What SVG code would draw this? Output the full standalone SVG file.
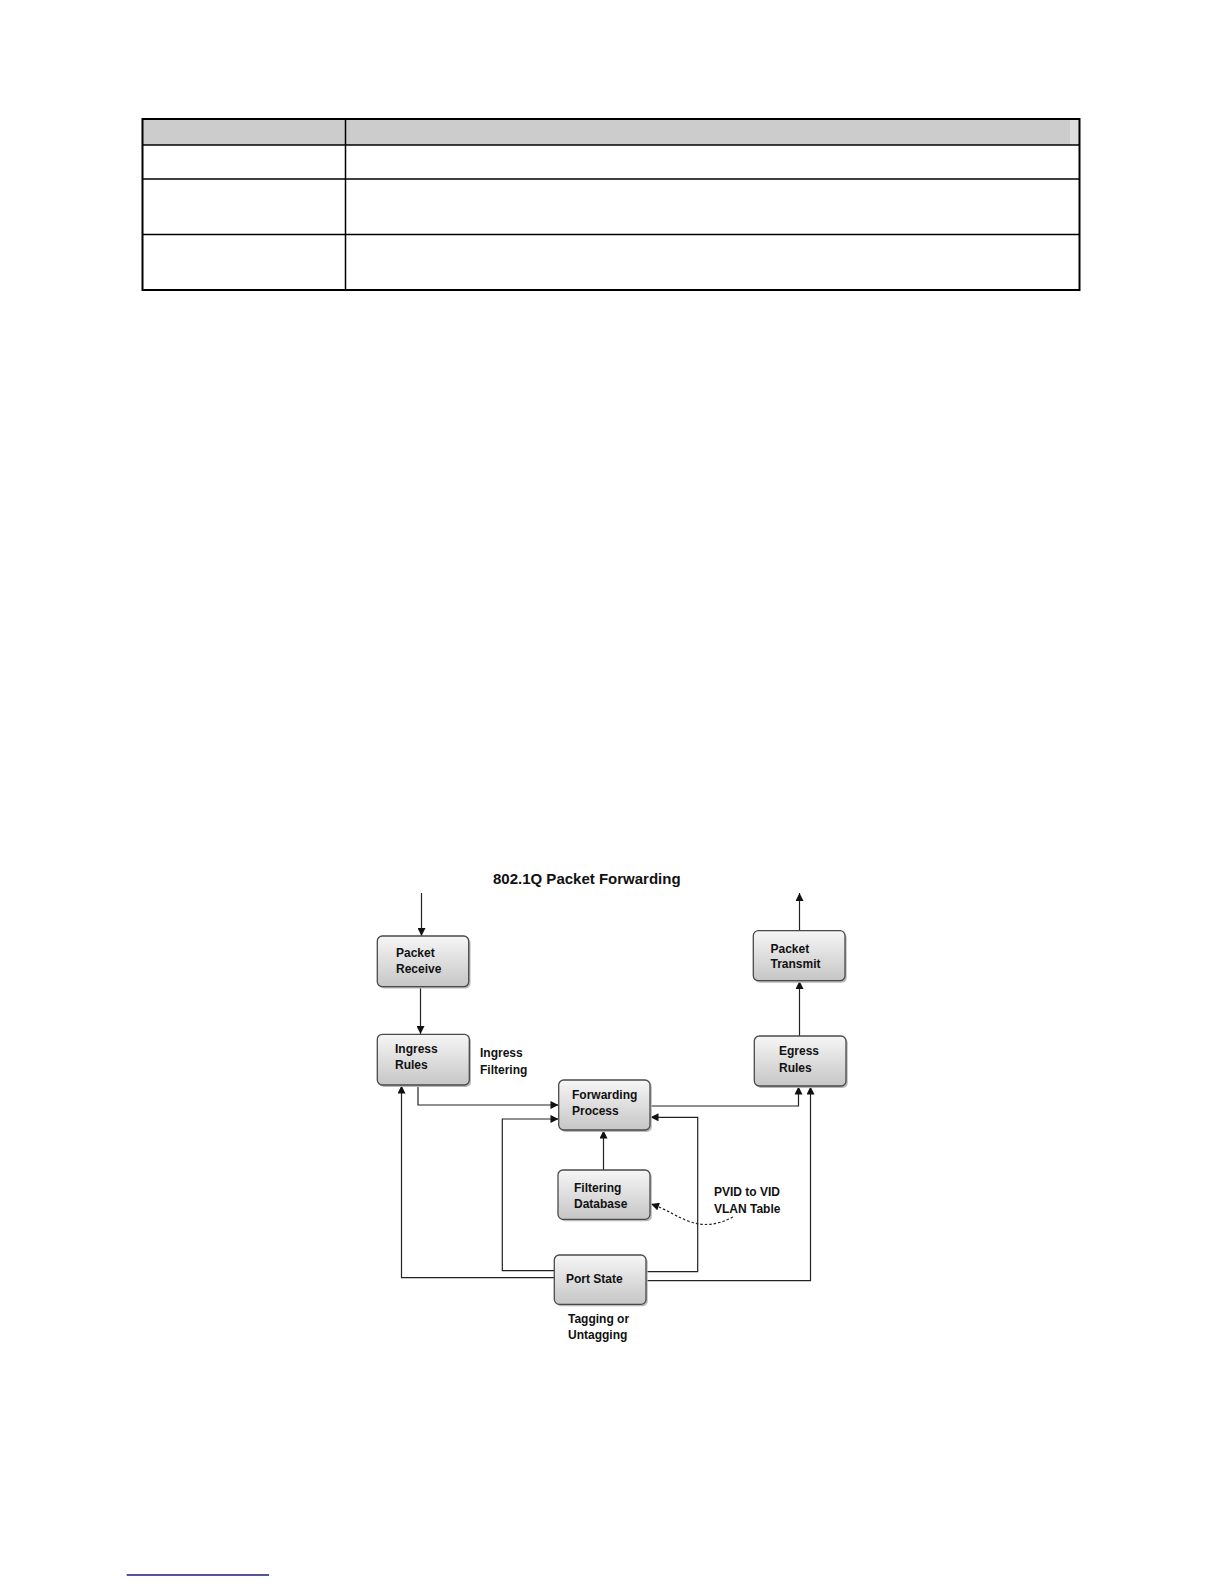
<svg xmlns="http://www.w3.org/2000/svg" width="1224" height="1584" viewBox="0 0 1224 1584">
<style>
.tb{fill:none;stroke:#000;stroke-width:1.5}
.box{stroke:#4a4a4a;stroke-width:1.3;fill:url(#g)}
.sh{fill:#b8b8b8}
.t{font-family:"Liberation Sans",Arial,sans-serif;font-weight:bold;font-size:12px;fill:#111}
.ttl{font-family:"Liberation Sans",Arial,sans-serif;font-weight:bold;font-size:15px;fill:#111}
.c{fill:none;stroke:#222;stroke-width:1.2}
</style>
<defs>
<linearGradient id="g" x1="0" y1="0" x2="0" y2="1">
<stop offset="0" stop-color="#f6f6f6"/>
<stop offset="1" stop-color="#c6c6c6"/>
</linearGradient>
<marker id="a" viewBox="0 0 10 10" refX="10" refY="5" markerWidth="9" markerHeight="8" markerUnits="userSpaceOnUse" orient="auto">
<path d="M0,0 L10,5 L0,10 z" fill="#111"/>
</marker>
</defs>
<g id="table">
<rect x="142.5" y="119" width="937" height="26" fill="#cccccc"/>
<rect x="1070" y="120" width="8.5" height="25" fill="#dedede"/>
<rect x="142.5" y="119" width="937" height="171" fill="none" stroke="#000" stroke-width="2"/>
<line class="tb" x1="142.5" y1="145" x2="1079.5" y2="145"/>
<line class="tb" x1="142.5" y1="179" x2="1079.5" y2="179"/>
<line class="tb" x1="142.5" y1="234.5" x2="1079.5" y2="234.5"/>
<line class="tb" x1="345.5" y1="119" x2="345.5" y2="290"/>
</g>
<text class="ttl" x="493" y="884">802.1Q Packet Forwarding</text>
<g id="connectors">
<path class="c" d="M421.5,893 V936" marker-end="url(#a)"/>
<path class="c" d="M420.5,987 V1034" marker-end="url(#a)"/>
<path class="c" d="M418,1085 V1105 H558.5" marker-end="url(#a)"/>
<path class="c" d="M650,1106 H798.5 V1086.5" marker-end="url(#a)"/>
<path class="c" d="M799.5,1036 V981" marker-end="url(#a)"/>
<path class="c" d="M799.5,930.5 V893" marker-end="url(#a)"/>
<path class="c" d="M603.5,1170 V1130.5" marker-end="url(#a)"/>
<path class="c" d="M554.3,1270.7 H502.3 V1119 H558.5" marker-end="url(#a)"/>
<path class="c" d="M646,1271.7 H697.7 V1117.3 H650.5" marker-end="url(#a)"/>
<path class="c" d="M554.3,1277.7 H401.5 V1085.5" marker-end="url(#a)"/>
<path class="c" d="M646,1280.7 H810.5 V1086.5" marker-end="url(#a)"/>
<path class="c" d="M733,1217 C718,1225 703,1227 688,1221 S666,1209 651,1204" stroke-dasharray="2.5,2" marker-end="url(#a)"/>
</g>
<g id="packet-receive">
<rect class="sh" x="379" y="938" width="91.5" height="50.5" rx="5"/>
<rect class="box" x="377.3" y="936" width="91.4" height="50.7" rx="5"/>
<text class="t" x="396" y="956.5">Packet</text>
<text class="t" x="396" y="972.5">Receive</text>
</g>
<g id="ingress-rules">
<rect class="sh" x="379" y="1036.3" width="92" height="50.7" rx="5"/>
<rect class="box" x="377.3" y="1034.3" width="92" height="50.7" rx="5"/>
<text class="t" x="395" y="1052.5">Ingress</text>
<text class="t" x="395" y="1069">Rules</text>
</g>
<g id="ingress-filtering">
<text class="t" x="480" y="1056.5">Ingress</text>
<text class="t" x="480" y="1074">Filtering</text>
</g>
<g id="packet-transmit">
<rect class="sh" x="755" y="932.7" width="91.7" height="50" rx="5"/>
<rect class="box" x="753.3" y="930.7" width="91.7" height="50" rx="5"/>
<text class="t" x="770.5" y="952.5">Packet</text>
<text class="t" x="770.5" y="968">Transmit</text>
</g>
<g id="egress-rules">
<rect class="sh" x="756" y="1038" width="91.7" height="50" rx="5"/>
<rect class="box" x="754.3" y="1036" width="91.7" height="50" rx="5"/>
<text class="t" x="779" y="1055">Egress</text>
<text class="t" x="779" y="1071.5">Rules</text>
</g>
<g id="forwarding-process">
<rect class="sh" x="560.5" y="1082" width="91.3" height="50" rx="5"/>
<rect class="box" x="558.7" y="1080" width="91.3" height="50" rx="5"/>
<text class="t" x="572" y="1099">Forwarding</text>
<text class="t" x="572" y="1115">Process</text>
</g>
<g id="filtering-database">
<rect class="sh" x="559.8" y="1172" width="92" height="49.3" rx="5"/>
<rect class="box" x="558" y="1170" width="92" height="49.3" rx="5"/>
<text class="t" x="574" y="1191.5">Filtering</text>
<text class="t" x="574" y="1207.5">Database</text>
</g>
<g id="pvid-label">
<text class="t" x="714" y="1196">PVID to VID</text>
<text class="t" x="714" y="1212.5">VLAN Table</text>
</g>
<g id="port-state">
<rect class="sh" x="556" y="1257" width="91.7" height="49.3" rx="5"/>
<rect class="box" x="554.3" y="1255" width="91.7" height="49.3" rx="5"/>
<text class="t" x="566" y="1282.5">Port State</text>
</g>
<g id="tagging-label">
<text class="t" x="568" y="1323">Tagging or</text>
<text class="t" x="568" y="1339">Untagging</text>
</g>
<line x1="126.7" y1="1575" x2="269" y2="1575" stroke="#1a1a80" stroke-width="1.5"/>
</svg>
